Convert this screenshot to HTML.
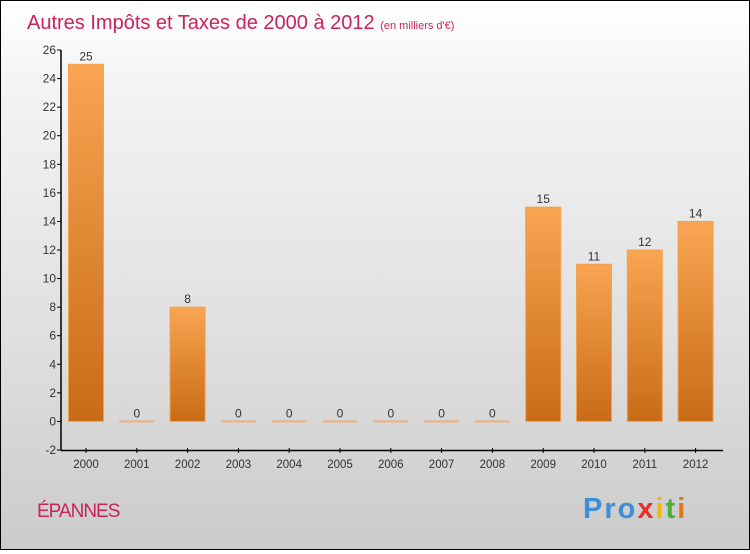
<!DOCTYPE html>
<html><head><meta charset="utf-8"><style>
body{margin:0;width:750px;height:550px;overflow:hidden;font-family:"Liberation Sans",sans-serif}
#wrap{position:absolute;left:0;top:0;width:748px;height:548px;border:1px solid #000;background:linear-gradient(#fff,#f4f4f4 15%,#e0e0e0 60%,#cbcbcb)}
</style></head><body>
<div id="wrap">
<svg width="748" height="548">
<defs><linearGradient id="bg" x1="0" y1="0" x2="0" y2="1"><stop offset="0" stop-color="#f9a552"/><stop offset="1" stop-color="#c86b16"/></linearGradient></defs>
<text x="26" y="28" font-size="20" fill="#c8245a">Autres Impôts et Taxes de 2000 à 2012 <tspan font-size="11">(en milliers d'€)</tspan></text>
<text x="36" y="516" font-size="19" fill="#c8245a" letter-spacing="-1">ÉPANNES</text>
<text x="582" y="517" font-size="29" font-weight="bold" fill="#3a8fd8" letter-spacing="2">Pro<tspan fill="#e8302a">x</tspan><tspan fill="#f0b800">i</tspan><tspan fill="#4caf3c">t</tspan><tspan fill="#e07a10">i</tspan></text>
<g id="g"></g>
</svg></div>
<script>
const years=["2000","2001","2002","2003","2004","2005","2006","2007","2008","2009","2010","2011","2012"];
const values=[25,0,8,0,0,0,0,0,0,15,11,12,14];
const yTicks=[-2,0,2,4,6,8,10,12,14,16,18,20,22,24,26];
const NS="http://www.w3.org/2000/svg";
const g=document.getElementById('g');
const y=v=>49+(26-v)*400/28;
const x=i=>85+i*50.8;
function mk(t,a,p){const e=document.createElementNS(NS,t);for(const k in a)e.setAttribute(k,a[k]);(p||g).appendChild(e);return e;}
let ax=mk('line',{x1:60,y1:49,x2:60,y2:449.5,stroke:'#000','stroke-width':1.5});


let bx=mk('line',{x1:60,y1:449.5,x2:722,y2:449.5,stroke:'#000','stroke-width':1.5});


yTicks.forEach(v=>{
 mk('line',{x1:56,x2:60,y1:y(v),y2:y(v),stroke:'#000'});
 const t=mk('text',{x:55,y:y(v)+4,'text-anchor':'end','font-size':12,fill:'#333'});t.textContent=v;
 
 
});
years.forEach((yr,i)=>{
 const cx=x(i),v=values[i];
 mk('line',{x1:cx,x2:cx,y1:447,y2:452,stroke:'#000'});
 const t=mk('text',{x:cx,y:467,'text-anchor':'middle','font-size':11.5,fill:'#333'});t.textContent=yr;
 
 
 let b;
 if(v>0){b=mk('rect',{x:cx-17.5,y:y(v),width:35,height:y(0)-y(v),fill:'url(#bg)',stroke:'#f3a050','stroke-width':1});}
 else{b=mk('rect',{x:cx-17.5,y:y(0)-1,width:35,height:2,fill:'#f0b07a'});}
 
 
 const l=mk('text',{x:cx,y:y(v)-4,'text-anchor':'middle','font-size':12,fill:'#333'});l.textContent=v;
 
 
});
</script>
</body></html>
